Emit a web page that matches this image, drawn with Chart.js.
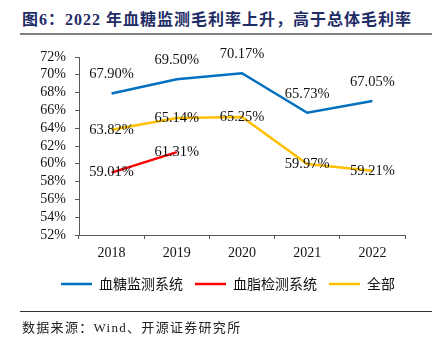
<!DOCTYPE html>
<html>
<head>
<meta charset="utf-8">
<script src="https://cdn.jsdelivr.net/npm/chart.js@4"></script>
<style>
  body { margin: 0; background: #fff; }
  #wrap { position: relative; width: 444px; height: 345px; overflow: hidden; }
  #chart { position: absolute; left: 0; top: 0; }
  .title { position: absolute; left: 22px; top: 6px; font: bold 16px "Liberation Serif", "Noto Sans CJK SC"; color: #1f2d66; letter-spacing: 1px; white-space: nowrap; }
  .topline { position: absolute; left: 20px; top: 33px; width: 412px; height: 2px; background: #808080; }
  .botline { position: absolute; left: 20px; top: 311px; width: 412px; height: 1px; background: #333; }
  .source { position: absolute; left: 22px; top: 317px; font: 13px "Liberation Serif", "Noto Sans CJK SC"; color: #222; letter-spacing: 1.3px; white-space: nowrap; }
</style>
</head>
<body>
<div id="wrap">
  <div class="title">图6：2022 年血糖监测毛利率上升，高于总体毛利率</div>
  <div class="topline"></div>
  <canvas id="chart" width="444" height="345"></canvas>
  <div class="botline"></div>
  <div class="source">数据来源：Wind、开源证券研究所</div>
</div>
<script>
// 数据
const years = ["2018", "2019", "2020", "2021", "2022"];
const seriesNames = ["血糖监测系统", "血脂检测系统", "全部"];
const glucose = [67.90, 69.50, 70.17, 65.73, 67.05];
const lipid = [59.01, 61.31, null, null, null];
const total = [63.82, 65.14, 65.25, 59.97, 59.21];
const yTicks = [52, 54, 56, 58, 60, 62, 64, 66, 68, 70, 72];

// 数据标签
const labelPlugin = {
  id: 'pointLabels',
  afterDatasetsDraw(chart) {
    const ctx = chart.ctx;
    ctx.save();
    ctx.font = '14.5px "Liberation Serif"';
    ctx.fillStyle = '#111';
    ctx.textAlign = 'center';
    ctx.textBaseline = 'middle';
    chart.data.datasets.forEach((ds, i) => {
      const meta = chart.getDatasetMeta(i);
      meta.data.forEach((pt, j) => {
        const v = ds.data[j];
        if (v == null) return;
        ctx.fillText(v.toFixed(2) + '%', pt.x, pt.y - (ds.labelDy || 0));
      });
    });
    ctx.restore();
  }
};

const ctx = document.getElementById('chart').getContext('2d');
new Chart(ctx, {
  type: 'line',
  data: {
    labels: years,
    datasets: [
      { label: seriesNames[0], data: glucose, borderColor: '#0070c0', backgroundColor: '#0070c0', borderWidth: 2.5, pointRadius: 0, labelDy: 19 },
      { label: seriesNames[1], data: lipid, borderColor: '#ff0000', backgroundColor: '#ff0000', borderWidth: 2.5, pointRadius: 0, labelDy: 0 },
      { label: seriesNames[2], data: total, borderColor: '#ffc000', backgroundColor: '#ffc000', borderWidth: 2.5, pointRadius: 0, labelDy: 0 }
    ]
  },
  options: {
    responsive: false,
    animation: false,
    layout: { padding: { left: 12, right: 0, top: 57, bottom: 44 } },
    plugins: {
      tooltip: { enabled: false },
      legend: {
        position: 'bottom',
        labels: {
          usePointStyle: true,
          pointStyle: 'line',
          pointStyleWidth: 31,
          boxHeight: 14,
          padding: 12,
          color: '#111',
          font: { family: '"Noto Sans CJK SC"', size: 14 }
        }
      }
    },
    scales: {
      x: {
        offset: true,
        grid: { offset: true, drawOnChartArea: false, drawTicks: true, tickLength: 4, color: '#595959' },
        border: { color: '#595959' },
        ticks: { color: '#111', padding: 6, font: { family: '"Liberation Serif"', size: 14 } },
        afterFit(s) { s.height = 30; }
      },
      y: {
        min: yTicks[0],
        max: yTicks[yTicks.length - 1],
        afterBuildTicks(s) { s.ticks = yTicks.map(v => ({ value: v })); },
        grid: { drawOnChartArea: false, drawTicks: true, tickLength: 4, color: '#595959' },
        border: { color: '#595959' },
        ticks: { color: '#111', padding: 9, autoSkip: false, font: { family: '"Liberation Serif"', size: 14 }, callback: v => v + '%' },
        afterFit(s) { s.width = 67; }
      },
      y2: {
        position: 'right',
        display: true,
        grid: { display: false },
        border: { display: false },
        ticks: { display: false },
        afterFit(s) { s.width = 39; }
      }
    }
  },
  plugins: [labelPlugin]
});
</script>
</body>
</html>
